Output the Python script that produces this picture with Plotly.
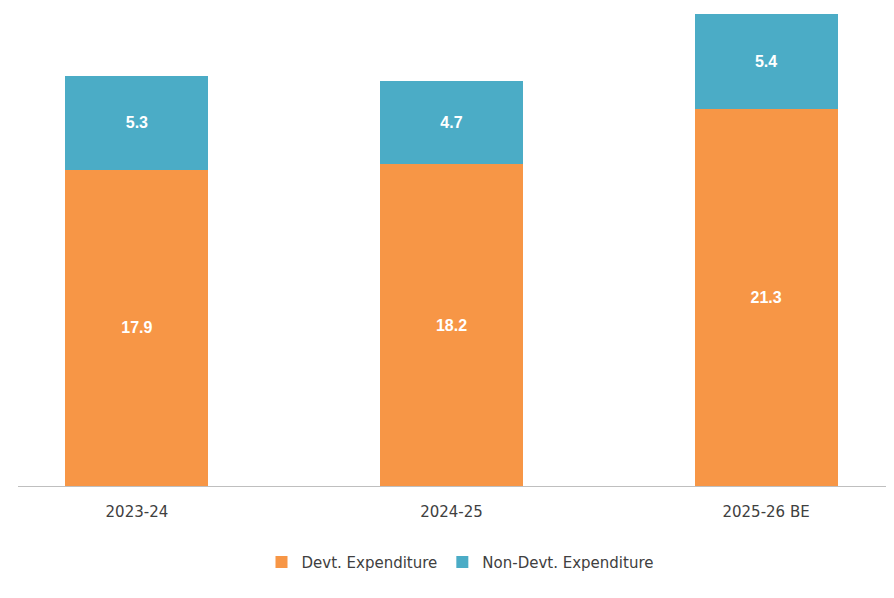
import plotly.graph_objects as go

years = ["2023-24", "2024-25", "2025-26 BE"]
devt = [17.9, 18.2, 21.3]
non_devt = [5.3, 4.7, 5.4]

fig = go.Figure()
fig.add_bar(x=years, y=devt, name="Devt. Expenditure", marker_color="#F79646",
            text=[f"{v:.1f}" for v in devt], textposition="inside", insidetextanchor="middle",
            textfont=dict(color="white", size=16, family="Liberation Sans"), width=0.455)
fig.add_bar(x=years, y=non_devt, name="Non-Devt. Expenditure", marker_color="#4BACC6",
            text=[f"{v:.1f}" for v in non_devt], textposition="inside", insidetextanchor="middle",
            textfont=dict(color="white", size=16, family="Liberation Sans"), width=0.455)
fig.update_traces(texttemplate="<b>%{text}</b>", marker_line_width=0)
fig.update_layout(
    barmode="stack", width=894, height=598,
    margin=dict(l=10, r=0, t=0, b=120),
    plot_bgcolor="white", paper_bgcolor="white",
    font=dict(family="DejaVu Sans", color="#404040", size=15),
    xaxis=dict(range=[-0.378, 2.432], showline=True, linecolor="#BFBFBF", linewidth=1,
               ticks="outside", ticklen=12, tickcolor="rgba(0,0,0,0)", tickfont=dict(size=15)),
    yaxis=dict(range=[0, 27.04], visible=False),
    legend=dict(orientation="h", x=0.5, xanchor="center", y=-0.125, yanchor="top",
                font=dict(size=15), traceorder="normal"),
    uniformtext=dict(mode=False),
)
fig.write_html("out.html")
